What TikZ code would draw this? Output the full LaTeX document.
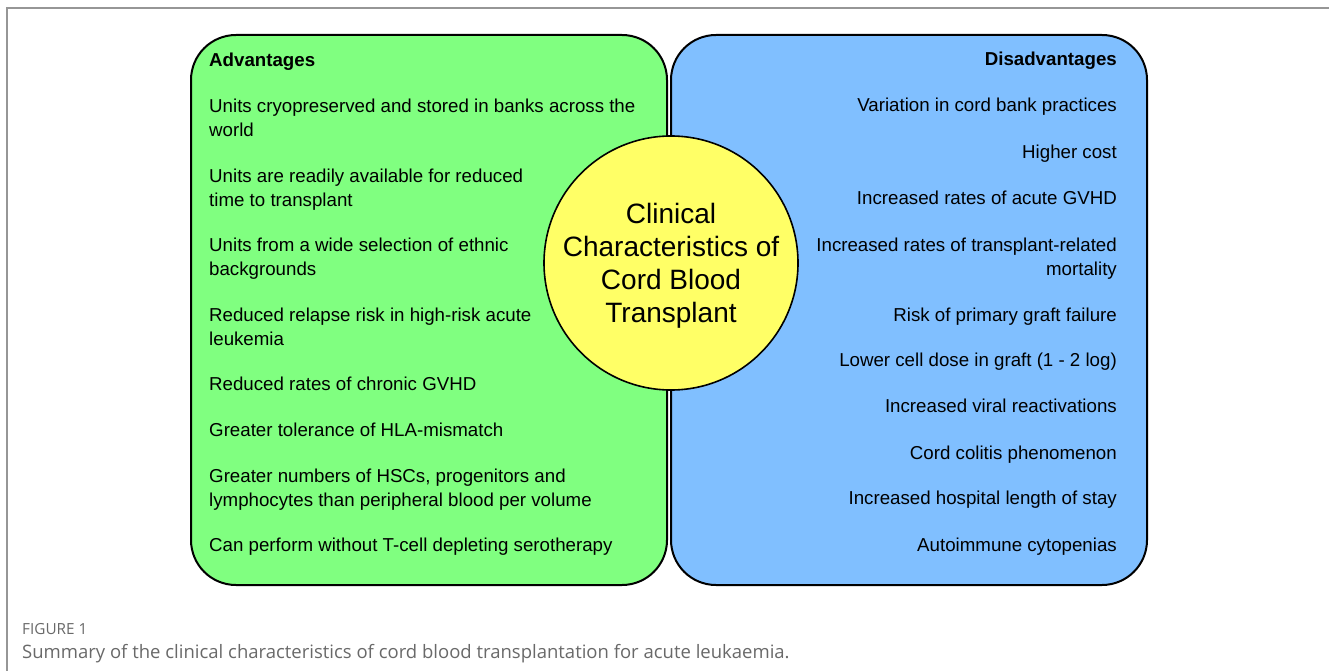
\documentclass[tikz,border=0pt]{standalone}
\usepackage{fontspec}
\setmainfont{Liberation Sans}
\newfontfamily\capfont{Open Sans}
\definecolor{advgreen}{RGB}{128,255,128}
\definecolor{disblue}{RGB}{128,191,255}
\definecolor{circyellow}{RGB}{255,255,102}
\definecolor{framegrey}{RGB}{150,150,150}
\definecolor{capgrey}{RGB}{105,105,105}
\newcommand\st{\rule[-5pt]{0pt}{19pt}}
\tikzset{
  panel/.style={draw=black, line width=2pt, rounded corners=45pt},
  adv/.style={anchor=north west, inner sep=0pt, align=left, font=\fontsize{18.7}{24}\selectfont},
  dis/.style={anchor=north east, inner sep=0pt, align=right, font=\fontsize{18.7}{24}\selectfont},
  hub/.style={circle, draw=black, line width=1.6pt, fill=circyellow, minimum size=254pt, inner sep=0pt},
  hubtext/.style={inner sep=0pt, align=center, yshift=-3pt, font=\fontsize{28}{33}\selectfont},
  captext/.style={anchor=base west, inner sep=0pt, text=capgrey}
}
\begin{document}
\begin{tikzpicture}[x=1pt, y=-1pt]
\useasboundingbox (0,0) rectangle (1329,671);
% frame
\coordinate (fb) at (7,672);
\coordinate (ft) at (7,8);
\coordinate (fr) at (1330,8);
\draw[framegrey, line width=1.3pt] (fb) -- (ft) -- (fr);
% panels
\draw[panel, fill=advgreen] (191,35) rectangle (667,585);
\draw[panel, fill=disblue] (671,35) rectangle (1147,585);
% left column
\node[adv] (ah) at (209,52) {\st\textbf{Advantages}};
\node[adv] (a1) at (209,98.5) {\st Units cryopreserved and stored in banks across the\\\st world};
\node[adv] (a2) at (209,168) {\st Units are readily available for reduced\\\st time to transplant};
\node[adv] (a3) at (209,237.5) {\st Units from a wide selection of ethnic\\\st backgrounds};
\node[adv] (a4) at (209,307) {\st Reduced relapse risk in high-risk acute\\\st leukemia};
\node[adv] (a5) at (209,376.5) {\st Reduced rates of chronic GVHD};
\node[adv] (a6) at (209,422.5) {\st Greater tolerance of HLA-mismatch};
\node[adv] (a7) at (209,468.5) {\st Greater numbers of HSCs, progenitors and\\\st lymphocytes than peripheral blood per volume};
\node[adv] (a8) at (209,537.5) {\st Can perform without T-cell depleting serotherapy};
% right column
\node[dis] (dh) at (1117,51) {\st\textbf{Disadvantages}};
\node[dis] (d1) at (1117,97.5) {\st Variation in cord bank practices};
\node[dis] (d2) at (1117,144) {\st Higher cost};
\node[dis] (d3) at (1117,190.5) {\st Increased rates of acute GVHD};
\node[dis] (d4) at (1117,237) {\st Increased rates of transplant-related\\\st mortality};
\node[dis] (d5) at (1117,307) {\st Risk of primary graft failure};
\node[dis] (d6) at (1117,352.5) {\st Lower cell dose in graft (1 - 2 log)};
\node[dis] (d7) at (1117,398.5) {\st Increased viral reactivations};
\node[dis] (d8) at (1117,445) {\st Cord colitis phenomenon};
\node[dis] (d9) at (1117,490.5) {\st Increased hospital length of stay};
\node[dis] (d10) at (1117,537) {\st Autoimmune cytopenias};
% centre circle
\node[hub, label={[hubtext]center:Clinical\\Characteristics of\\Cord Blood\\Transplant}] (hub) at (671,263) {};
% caption
\node[captext, font=\capfont\fontsize{15.3}{17}\selectfont] (fig) at (22,634) {FIGURE 1};
\node[captext, font=\capfont\fontsize{18.5}{21}\selectfont] (capt) at (22,658) {Summary of the clinical characteristics of cord blood transplantation for acute leukaemia.};
\end{tikzpicture}
\end{document}
